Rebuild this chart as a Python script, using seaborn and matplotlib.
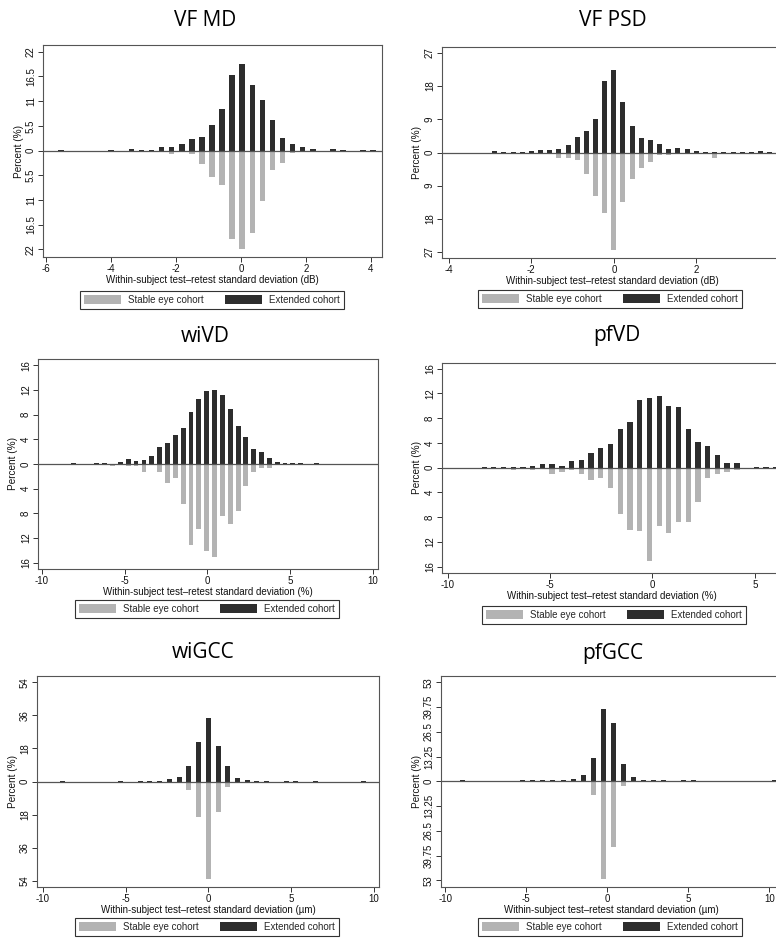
import matplotlib.pyplot as plt
import seaborn as sns
from matplotlib.patches import Patch

# ---- data (bin centre, percent per cohort) ----
# VF MD (dB)
vfmd_centers = [-5.54, -3.99, -3.37, -3.06, -2.75, -2.44, -2.13, -1.82, -1.51, -1.20, -0.89, -0.58, -0.27,
                0.04, 0.35, 0.66, 0.97, 1.28, 1.59, 1.90, 2.21, 2.83, 3.14, 3.76, 4.07]
vfmd_extended = [0.15, 0.15, 0.3, 0.2, 0.2, 0.8, 0.7, 1.4, 2.5, 3.0, 5.7, 9.2, 16.9,
                 19.3, 14.7, 11.3, 6.8, 2.9, 1.5, 0.8, 0.4, 0.3, 0.15, 0.15, 0.2]
vfmd_stable = [0, 0, 0, 0, 0.4, 0.4, 0.7, 0.4, 0.7, 3.0, 5.9, 7.6, 19.7,
               21.9, 18.4, 11.3, 4.3, 2.7, 0.6, 0, 0, 0, 0, 0.15, 0]

# VF PSD (dB)
vfpsd_centers = [-2.89, -2.66, -2.44, -2.22, -2.00, -1.78, -1.55, -1.33, -1.11, -0.89, -0.67, -0.44, -0.22,
                 0.00, 0.22, 0.44, 0.67, 0.89, 1.11, 1.33, 1.55, 1.78, 2.00, 2.22, 2.44, 2.66, 2.89,
                 3.11, 3.33, 3.55, 3.77]
vfpsd_extended = [0.3, 0.15, 0.2, 0.2, 0.4, 0.6, 0.6, 0.9, 2.1, 4.1, 5.7, 9.0, 19.4,
                  22.4, 13.6, 7.1, 4.0, 3.3, 2.2, 0.9, 1.1, 0.9, 0.4, 0.2, 0.15, 0.15, 0.15,
                  0.15, 0.15, 0.3, 0.15]
vfpsd_stable = [0, 0.4, 0, 0, 0, 0, 0, 1.4, 1.4, 2.1, 5.7, 11.8, 16.5,
                26.4, 13.3, 7.3, 4.2, 2.7, 0.7, 0.7, 0.5, 0.3, 0, 0, 1.4, 0, 0,
                0, 0, 0, 0.5]

# wiVD (%)
wivd_centers = [-8.10, -6.68, -6.20, -5.73, -5.25, -4.78, -4.31, -3.83, -3.36, -2.88, -2.41, -1.94, -1.46,
                -0.99, -0.51, -0.04, 0.43, 0.91, 1.38, 1.86, 2.33, 2.80, 3.28, 3.75, 4.23, 4.70,
                5.17, 5.65, 6.60]
wivd_extended = [0.1, 0.1, 0.1, 0, 0.3, 0.8, 0.5, 0.7, 1.35, 2.7, 3.45, 4.75, 5.75,
                 8.35, 10.5, 11.85, 11.95, 11.1, 8.9, 6.15, 4.35, 2.5, 2.0, 0.95, 0.25, 0.1,
                 0.2, 0.1, 0.1]
wivd_stable = [0, 0, 0, 0.3, 0, 0.4, 0.4, 1.35, 0, 1.35, 3.0, 2.2, 6.5,
               13.1, 10.5, 14.1, 15.1, 8.5, 9.75, 7.55, 3.55, 1.35, 0.7, 0.7, 0, 0,
               0, 0, 0]

# pfVD (%)
pfvd_centers = [-8.22, -7.75, -7.28, -6.80, -6.33, -5.85, -5.38, -4.90, -4.42, -3.95, -3.47, -3.00, -2.52,
                -2.05, -1.57, -1.10, -0.62, -0.15, 0.33, 0.80, 1.28, 1.75, 2.23, 2.70, 3.18, 3.65,
                4.13, 5.08, 5.55, 6.03]
pfvd_extended = [0.15, 0.1, 0.1, 0.15, 0.1, 0.2, 0.55, 0.55, 0.3, 1.0, 1.3, 2.4, 3.2,
                 3.9, 6.2, 7.4, 10.9, 11.25, 11.65, 9.95, 9.85, 6.2, 4.1, 3.45, 2.0, 0.8,
                 0.7, 0.1, 0.15, 0.15]
pfvd_stable = [0, 0, 0, 0.3, 0, 0.3, 0, 1.0, 0.7, 0.3, 1.0, 1.95, 1.65,
               3.3, 7.5, 10.1, 10.15, 15.05, 9.45, 10.5, 8.8, 8.8, 5.5, 1.6, 1.0, 0.65,
               0.4, 0, 0, 0]

# wiGCC (um)
wigcc_centers = [-8.82, -5.29, -4.12, -3.53, -2.94, -2.35, -1.76, -1.18, -0.59, 0.00,
                 0.59, 1.18, 1.76, 2.35, 2.94, 3.53, 4.70, 5.29, 6.47, 9.41]
wigcc_extended = [0.4, 0.4, 0.4, 0.4, 0.4, 1.1, 2.5, 8.4, 21.5, 34.5,
                  19.3, 8.4, 1.8, 0.7, 0.5, 0.4, 0.4, 0.4, 0.4, 0.4]
wigcc_stable = [0, 0, 0, 0, 0, 0, 0, 4.5, 19.6, 53.3,
                16.7, 2.9, 0.9, 0, 0, 0, 0, 0, 0, 0]

# pfGCC (um)
pfgcc_centers = [-8.94, -5.22, -4.60, -3.98, -3.36, -2.73, -2.11, -1.49, -0.87, -0.25,
                 0.37, 0.99, 1.61, 2.23, 2.86, 3.48, 4.72, 5.34, 10.31]
pfgcc_extended = [0.5, 0.5, 0.5, 0.5, 0.5, 0.5, 1.25, 3.6, 12.5, 38.75,
                  31.1, 9.3, 2.1, 0.9, 0.5, 0.5, 0.5, 0.5, 0.5]
pfgcc_stable = [0, 0, 0, 0, 0, 0, 0, 0, 7.5, 52.3,
                35.2, 2.7, 0.5, 0, 0, 0, 0, 0, 0]

STABLE_COLOR = '#b3b3b3'
EXTENDED_COLOR = '#2d2d2d'
LEGEND_LABELS = ['Stable eye cohort', 'Extended cohort']

sns.set_theme(style='white')
plt.rcParams['font.family'] = ['Liberation Sans', 'DejaVu Sans']

W, H = 776, 939
fig = plt.figure(figsize=(W / 100, H / 100), dpi=100)
fig.patch.set_facecolor('white')


def painel(box, centers, extended, stable, xlim, ylim, xticks, yticks, unit, width,
           title, title_xy, legend_xy):
    left, top, right, bottom = box
    ax = fig.add_axes([left / W, 1 - bottom / H, (right - left) / W, (bottom - top) / H])

    sns.barplot(x=centers, y=extended, color=EXTENDED_COLOR, native_scale=True, orient='x',
                width=width, errorbar=None, linewidth=0, saturation=1, ax=ax)
    sns.barplot(x=centers, y=[-v for v in stable], color=STABLE_COLOR, native_scale=True, orient='x',
                width=width, errorbar=None, linewidth=0, saturation=1, ax=ax)
    ax.axhline(0, color='#555555', lw=0.9, zorder=3)

    ax.set_xlim(*xlim)
    ax.set_ylim(*ylim)
    ax.set_xticks(xticks)
    ax.set_xticklabels([f'{v:g}' for v in xticks])
    ax.set_yticks(yticks)
    ax.set_yticklabels([f'{abs(v):g}' for v in yticks], rotation=90, va='center')
    ax.tick_params(axis='both', direction='out', length=3.6, width=0.7, color='#333333',
                   labelsize=7, pad=1.5, bottom=True, left=True, labelcolor='#111111')
    for s in ax.spines.values():
        s.set_color('#555555')
        s.set_linewidth(0.8)

    ax.set_xlabel(f'Within-subject test\u2013retest standard deviation ({unit})', fontsize=7, color='#111111')
    ax.xaxis.set_label_coords(0.5, -18 / (bottom - top))
    ax.set_ylabel('Percent (%)', fontsize=7.2, color='#111111')
    ax.yaxis.set_label_coords(-19.5 / (right - left), 0.5)

    fig.text(title_xy[0] / W, 1 - title_xy[1] / H, title, ha='center', va='center',
             fontsize=15, family='Open Sans', color='black')

    handles = [Patch(facecolor=STABLE_COLOR, edgecolor='none', label=LEGEND_LABELS[0]),
               Patch(facecolor=EXTENDED_COLOR, edgecolor='none', label=LEGEND_LABELS[1])]
    leg = fig.legend(handles=handles, loc='center', bbox_to_anchor=(legend_xy[0] / W, 1 - legend_xy[1] / H),
                     ncol=2, fontsize=7, frameon=True, fancybox=False, edgecolor='#333333', framealpha=1,
                     handlelength=3.8, handleheight=1.0, handletextpad=0.72, columnspacing=2.2,
                     borderpad=0.4, borderaxespad=0)
    leg.get_frame().set_linewidth(0.8)
    return ax


painel((43, 45, 382, 257), vfmd_centers, vfmd_extended, vfmd_stable,
       (-6.09, 4.34), (-23.7, 23.5), [-6, -4, -2, 0, 2, 4],
       [-22, -16.5, -11, -5.5, 0, 5.5, 11, 16.5, 22], 'dB', 0.55,
       'VF MD', (205, 20), (212, 300))

painel((442, 47, 782, 258), vfpsd_centers, vfpsd_extended, vfpsd_stable,
       (-4.16, 4.07), (-28.6, 28.6), [-4, -2, 0, 2],
       [-27, -18, -9, 0, 9, 18, 27], 'dB', 0.55,
       'VF PSD', (613, 20), (610, 299))

painel((38, 359, 378, 569), wivd_centers, wivd_extended, wivd_stable,
       (-10.24, 10.32), (-17.0, 17.0), [-10, -5, 0, 5, 10],
       [-16, -12, -8, -4, 0, 4, 8, 12, 16], '%', 0.62,
       'wiVD', (205, 336), (207, 609))

painel((442, 363, 782, 573), pfvd_centers, pfvd_extended, pfvd_stable,
       (-10.28, 6.33), (-17.0, 16.9), [-10, -5, 0, 5],
       [-16, -12, -8, -4, 0, 4, 8, 12, 16], '%', 0.55,
       'pfVD', (617, 336), (614, 615))

painel((37, 676, 379, 887), wigcc_centers, wigcc_extended, wigcc_stable,
       (-10.36, 10.32), (-57.5, 57.5), [-10, -5, 0, 5, 10],
       [-54, -36, -18, 0, 18, 36, 54], '\u00b5m', 0.52,
       'wiGCC', (203, 653), (207, 927))

painel((441, 676, 782, 887), pfgcc_centers, pfgcc_extended, pfgcc_stable,
       (-10.27, 10.78), (-56.6, 56.4), [-10, -5, 0, 5, 10],
       [-53, -39.75, -26.5, -13.25, 0, 13.25, 26.5, 39.75, 53], '\u00b5m', 0.5,
       'pfGCC', (613, 653), (610, 927))

fig.savefig('out.png', dpi=100)
